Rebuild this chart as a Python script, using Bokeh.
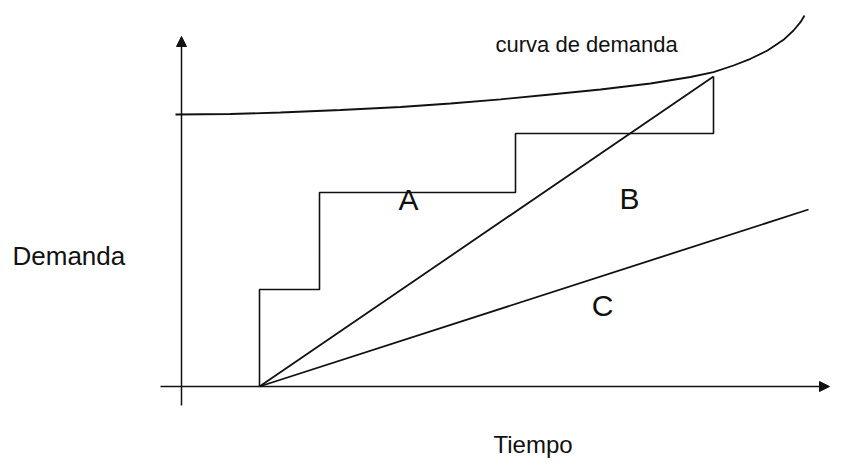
from bokeh.plotting import figure
from bokeh.models import Range1d, Arrow, NormalHead
from bokeh.core.properties import value
from bokeh.embed import file_html
from bokeh.resources import INLINE

# ---- data (time t, demand d, arbitrary units) ----
curve_t = [-0.6, 4.9, 9.9, 15.9, 21.9, 26.9, 31.9, 36.9, 41.9, 46.9, 50.9,
           53.2, 55.2, 56.9, 58.6, 60.2, 61.2, 61.9, 62.3]
curve_d = [27.2, 27.25, 27.4, 27.65, 27.95, 28.3, 28.72, 29.2, 29.7, 30.3, 30.95,
           31.43, 32.1, 32.77, 33.6, 34.67, 35.6, 36.43, 37.1]

step_times = [7.8, 13.8, 33.4, 53.2]
step_levels = [9.7, 19.4, 25.3]
step_end_d = 31.0

ramp_B_t = [7.8, 53.2]
ramp_B_d = [0.0, 31.0]
ramp_C_t = [7.8, 62.7]
ramp_C_d = [0.0, 17.7]

letters = ["A", "B", "C"]
letters_t = [22.7, 44.8, 42.1]
letters_d = [18.7, 18.8, 8.1]

axis_t = [-2.1, 64.8]
axis_d = [-1.9, 35.0]

title_curve = "curva de demanda"
title_curve_pos = (31.4, 34.2)
y_label = "Demanda"
y_label_pos = (-16.9, 13.1)
x_label = "Tiempo"
x_label_pos = (31.2, -7.1)

INK = "#111111"
FONT = "Liberation Sans"

p = figure(width=830, height=458, output_backend="svg", toolbar_location=None,
           x_range=Range1d(-18.1, 64.9), y_range=Range1d(-7.2, 38.6),
           min_border=0, min_border_left=0, min_border_right=0,
           min_border_top=0, min_border_bottom=0)
p.axis.visible = False
p.grid.visible = False
p.outline_line_color = None
p.background_fill_color = "white"
p.border_fill_color = "white"

# axes with arrowheads
p.add_layout(Arrow(end=NormalHead(size=10, fill_color=INK, line_color=INK),
                   x_start=0, y_start=axis_d[0], x_end=0, y_end=axis_d[1],
                   line_color=INK, line_width=1.5))
p.add_layout(Arrow(end=NormalHead(size=10, fill_color=INK, line_color=INK),
                   x_start=axis_t[0], y_start=0, x_end=axis_t[1], y_end=0,
                   line_color=INK, line_width=1.5))

# demand curve
p.line(curve_t, curve_d, line_color=INK, line_width=1.8)

# stepwise capacity (A)
xs = [step_times[0]]
ys = [0.0]
for i, lvl in enumerate(step_levels):
    xs += [step_times[i], step_times[i + 1]]
    ys += [lvl, lvl]
xs.append(step_times[-1])
ys.append(step_end_d)
p.line(xs, ys, line_color=INK, line_width=1.6)

# ramps B and C
p.line(ramp_B_t, ramp_B_d, line_color=INK, line_width=1.8)
p.line(ramp_C_t, ramp_C_d, line_color=INK, line_width=1.8)

# letters
p.text(letters_t, letters_d, text=letters, text_font=value(FONT),
       text_font_size="30px", text_align="center", text_baseline="middle",
       text_color=INK)

p.text([title_curve_pos[0]], [title_curve_pos[1]], text=[title_curve],
       text_font=value(FONT), text_font_size="22px", text_align="left",
       text_baseline="alphabetic", text_color=INK)
p.text([y_label_pos[0]], [y_label_pos[1]], text=[y_label],
       text_font=value(FONT), text_font_size="26px", text_align="left",
       text_baseline="alphabetic", text_color=INK)
p.text([x_label_pos[0]], [x_label_pos[1]], text=[x_label],
       text_font=value(FONT), text_font_size="24px", text_align="left",
       text_baseline="bottom", text_color=INK)

open("out.html", "w").write(file_html(p, INLINE))
